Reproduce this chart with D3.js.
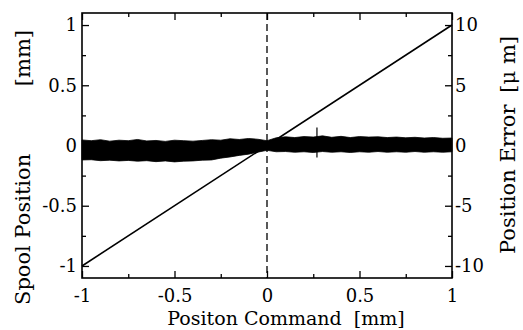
<!DOCTYPE html>
<html>
<head>
<meta charset="utf-8">
<script src="https://cdn.jsdelivr.net/npm/d3@7"></script>
<style>
  body { margin: 0; background: #fff; }
</style>
</head>
<body>
<svg id="chart" width="523" height="330"></svg>
<script>
// Position command sweep (mm) and spool position (mm)
const commandX = [-1, 1];
const spoolY = [-1, 1];

// Position error envelope (µm)
const errX = [-1, -0.95, -0.9, -0.85, -0.8, -0.75, -0.7, -0.65, -0.6, -0.55, -0.5, -0.45, -0.4, -0.35, -0.3,
  -0.25, -0.2, -0.15, -0.1, -0.05, 0, 0.05, 0.1, 0.15, 0.2, 0.25, 0.3, 0.35, 0.4, 0.45, 0.5,
  0.55, 0.6, 0.65, 0.7, 0.75, 0.8, 0.85, 0.9, 0.95, 1];
const errUpper = [0.46, 0.40, 0.48, 0.36, 0.44, 0.40, 0.50, 0.38, 0.42, 0.34, 0.44, 0.40, 0.36, 0.42, 0.48,
  0.44, 0.56, 0.50, 0.58, 0.52, 0.40, 0.64, 0.72, 0.66, 0.74, 0.70, 0.80, 0.68, 0.76, 0.66, 0.74,
  0.70, 0.72, 0.66, 0.70, 0.64, 0.68, 0.62, 0.66, 0.60, 0.62];
const errLower = [-1.20, -1.18, -1.26, -1.22, -1.28, -1.24, -1.30, -1.26, -1.34, -1.28, -1.36, -1.30, -1.28, -1.22, -1.20,
  -1.05, -0.95, -0.82, -0.72, -0.55, -0.40, -0.52, -0.50, -0.56, -0.52, -0.58, -0.50, -0.56, -0.52, -0.58, -0.52,
  -0.56, -0.50, -0.56, -0.52, -0.56, -0.50, -0.56, -0.52, -0.56, -0.52];
// isolated spike in the error trace
const spikeX = [0.27];
const spikeRange = [[-1.0, 1.5]];

const xTicks = [-1, -0.5, 0, 0.5, 1];
const xMinor = [-0.75, -0.25, 0.25, 0.75];
const yTicks = [-1, -0.5, 0, 0.5, 1];
const yMinor = [-0.75, -0.25, 0.25, 0.75];
const y2Ticks = [-10, -5, 0, 5, 10];
const y2Minor = [-7.5, -2.5, 2.5, 7.5];

const FONT = "'DejaVu Serif', 'Liberation Serif', serif";

const margin = { top: 13, right: 71, bottom: 52, left: 82 };
const W = 523, H = 330;
const iw = W - margin.left - margin.right;
const ih = H - margin.top - margin.bottom;

const svg = d3.select("#chart");
const g = svg.append("g").attr("transform", `translate(${margin.left},${margin.top})`);

const x = d3.scaleLinear().domain([-1, 1]).range([0, iw]);
const y = d3.scaleLinear().domain([-1.1, 1.1]).range([ih, 0]);
const y2 = d3.scaleLinear().domain([-11, 11]).range([ih, 0]);

// error band
const band = errX.map((v, i) => ({ x: v, lo: errLower[i], hi: errUpper[i] }));
g.append("path")
  .datum(band)
  .attr("fill", "#000")
  .attr("stroke", "#000")
  .attr("stroke-width", 0.8)
  .attr("d", d3.area().x(d => x(d.x)).y0(d => y2(d.lo)).y1(d => y2(d.hi)));

g.selectAll(".spike")
  .data(spikeX)
  .enter()
  .append("line")
  .attr("x1", d => x(d)).attr("x2", d => x(d))
  .attr("y1", (d, i) => y2(spikeRange[i][0]))
  .attr("y2", (d, i) => y2(spikeRange[i][1]))
  .attr("stroke", "#000")
  .attr("stroke-width", 1.2);

// dashed zero line
g.append("line")
  .attr("x1", x(0)).attr("x2", x(0))
  .attr("y1", 0).attr("y2", ih)
  .attr("stroke", "#000")
  .attr("stroke-width", 1.3)
  .attr("stroke-dasharray", "7,4");

// spool position line
g.append("path")
  .datum(commandX.map((v, i) => [v, spoolY[i]]))
  .attr("fill", "none")
  .attr("stroke", "#000")
  .attr("stroke-width", 1.6)
  .attr("d", d3.line().x(d => x(d[0])).y(d => y(d[1])));

// frame
g.append("rect")
  .attr("width", iw).attr("height", ih)
  .attr("fill", "none")
  .attr("stroke", "#000")
  .attr("stroke-width", 1.6);

// axes with inward ticks
const styleAxis = sel => {
  sel.select(".domain").remove();
  sel.selectAll(".tick line").attr("stroke", "#000").attr("stroke-width", 1.3);
  sel.selectAll("text")
    .attr("fill", "#000")
    .style("font-family", FONT)
    .style("font-size", "18px");
};

const fmt = d => d === 0 ? "0" : String(d);

g.append("g").attr("transform", `translate(0,${ih})`)
  .call(d3.axisBottom(x).tickValues(xTicks).tickSize(-7).tickPadding(11).tickFormat(fmt))
  .call(styleAxis);
g.append("g").attr("transform", `translate(0,${ih})`)
  .call(d3.axisBottom(x).tickValues(xMinor).tickSize(-4).tickFormat(""))
  .call(styleAxis);
g.append("g")
  .call(d3.axisTop(x).tickValues(xTicks).tickSize(-7).tickFormat(""))
  .call(styleAxis);
g.append("g")
  .call(d3.axisTop(x).tickValues(xMinor).tickSize(-4).tickFormat(""))
  .call(styleAxis);

g.append("g")
  .call(d3.axisLeft(y).tickValues(yTicks).tickSize(-7).tickPadding(5).tickFormat(fmt))
  .call(styleAxis);
g.append("g")
  .call(d3.axisLeft(y).tickValues(yMinor).tickSize(-4).tickFormat(""))
  .call(styleAxis);

g.append("g").attr("transform", `translate(${iw},0)`)
  .call(d3.axisRight(y2).tickValues(y2Ticks).tickSize(-7).tickPadding(3).tickFormat(fmt))
  .call(styleAxis);
g.append("g").attr("transform", `translate(${iw},0)`)
  .call(d3.axisRight(y2).tickValues(y2Minor).tickSize(-4).tickFormat(""))
  .call(styleAxis);

// titles
const title = (sel, anchor, size) => sel
  .attr("text-anchor", anchor)
  .style("font-family", FONT)
  .style("font-size", size + "px")
  .style("white-space", "pre")
  .attr("fill", "#000");

svg.append("text")
  .attr("x", margin.left + iw / 2 + 19)
  .attr("y", 325)
  .call(title, "middle", 19)
  .text("Positon Command  [mm]");

svg.append("text")
  .attr("transform", "translate(30,305) rotate(-90)")
  .call(title, "start", 21)
  .text("Spool Position");
svg.append("text")
  .attr("transform", "translate(30,30) rotate(-90)")
  .call(title, "end", 21)
  .text("[mm]");

svg.append("text")
  .attr("transform", "translate(515,254) rotate(-90)")
  .call(title, "start", 21)
  .text("Position Error");
svg.append("text")
  .attr("transform", "translate(515,36) rotate(-90)")
  .call(title, "end", 21)
  .text("[\u03bc m]");
</script>
</body>
</html>
